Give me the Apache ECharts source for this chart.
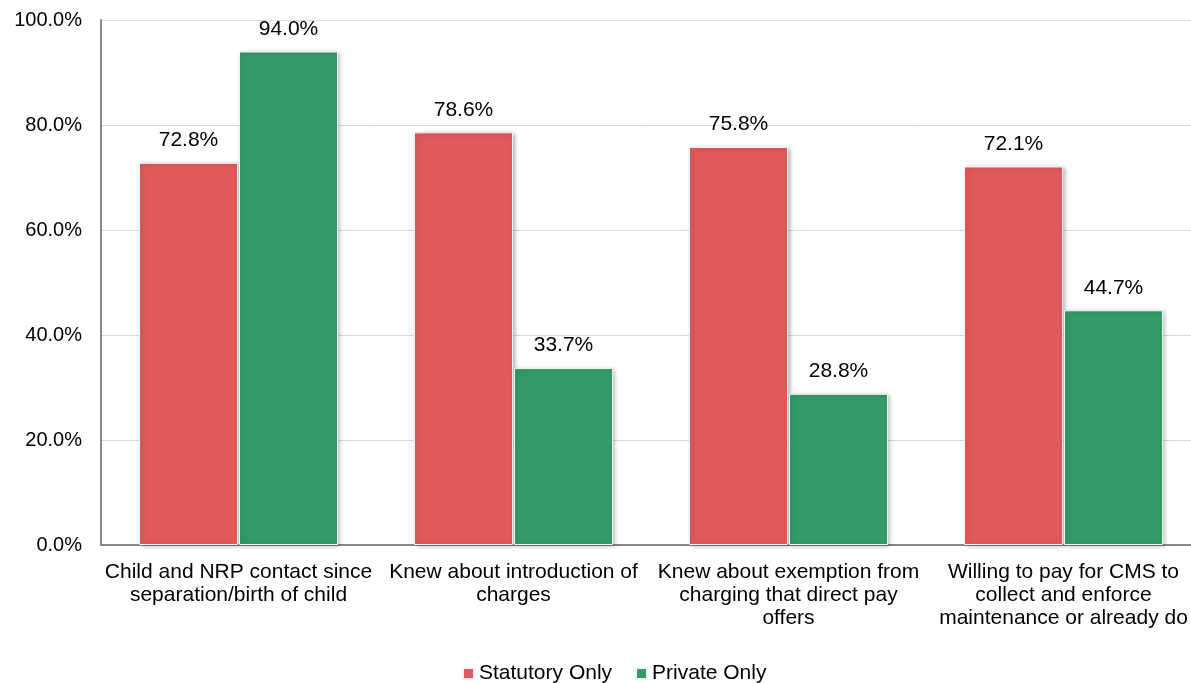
<!DOCTYPE html>
<html>
<head>
<meta charset="utf-8">
<script src="https://cdn.jsdelivr.net/npm/echarts@6/dist/echarts.min.js"></script>
<style>
  html, body { margin: 0; padding: 0; background: #fff; }
  #main { width: 1191px; height: 683px; }
</style>
</head>
<body>
<div id="main"></div>
<script>
var categories = [
    'Child and NRP contact since\nseparation/birth of child',
    'Knew about introduction of\ncharges',
    'Knew about exemption from\ncharging that direct pay\noffers',
    'Willing to pay for CMS to\ncollect and enforce\nmaintenance or already do'
];
var statutoryOnly = [72.8, 78.6, 75.8, 72.1];
var privateOnly = [94.0, 33.7, 28.8, 44.7];
var seriesNames = ['Statutory Only', 'Private Only'];

var myChart = echarts.init(document.getElementById('main'));

var barStyle = function (color) {
    return {
        color: color,
        borderColor: '#f4f4f4',
        borderWidth: 1,
        shadowColor: 'rgba(0,0,0,0.25)',
        shadowBlur: 4,
        shadowOffsetX: 2,
        shadowOffsetY: 1
    };
};

var labelStyle = {
    show: true,
    position: 'top',
    distance: 12,
    color: '#000',
    fontFamily: 'Liberation Sans, Arial',
    fontSize: 21,
    formatter: function (p) { return p.value.toFixed(1) + '%'; }
};

var option = {
    animation: false,
    textStyle: { fontFamily: 'Liberation Sans, Arial' },
    // plot area runs a little past the right edge, as in the original
    grid: { left: 101, top: 20, width: 1100, height: 525, outerBoundsMode: 'none', containLabel: false },
    legend: {
        data: seriesNames,
        left: 457,
        top: 658,
        itemWidth: 11,
        itemHeight: 11,
        itemGap: 23,
        icon: 'rect',
        textStyle: { color: '#000', fontSize: 21, fontFamily: 'Liberation Sans, Arial' }
    },
    xAxis: {
        type: 'category',
        data: categories,
        axisLine: { lineStyle: { color: '#888', width: 2 } },
        axisTick: { show: false },
        axisLabel: {
            interval: 0,
            color: '#000',
            fontSize: 21,
            lineHeight: 23,
            margin: 16,
            fontFamily: 'Liberation Sans, Arial'
        }
    },
    yAxis: {
        type: 'value',
        min: 0,
        max: 100,
        interval: 20,
        axisLine: { show: true, lineStyle: { color: '#888', width: 2 } },
        axisTick: { show: false },
        splitLine: { lineStyle: { color: '#d9d9d9', width: 1 } },
        axisLabel: {
            color: '#000',
            fontSize: 20,
            margin: 19,
            fontFamily: 'Liberation Sans, Arial',
            formatter: function (v) { return v.toFixed(1) + '%'; }
        }
    },
    series: [
        {
            name: seriesNames[0],
            type: 'bar',
            data: statutoryOnly,
            barWidth: 99,
            barGap: '1%',
            itemStyle: barStyle('#e05a5b'),
            label: labelStyle
        },
        {
            name: seriesNames[1],
            type: 'bar',
            data: privateOnly,
            barWidth: 99,
            barGap: '1%',
            itemStyle: barStyle('#349a69'),
            label: labelStyle
        }
    ]
};
myChart.setOption(option);
</script>
</body>
</html>
